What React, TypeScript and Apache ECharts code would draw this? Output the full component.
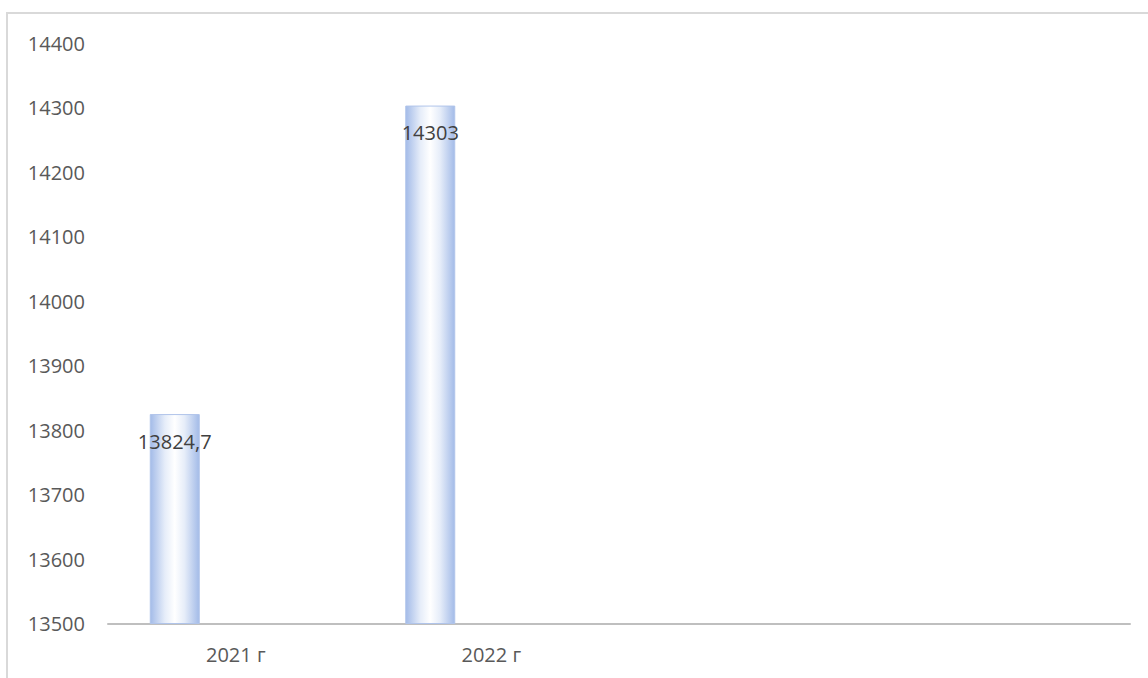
import React, { useEffect, useRef } from "react";
import * as echarts from "echarts";

const categories = ["2021 г", "2022 г", "", ""];
const values: (number | null)[] = [13824.7, 14303, null, null];
const emptyA: (number | null)[] = [null, null, null, null];
const emptyB: (number | null)[] = [null, null, null, null];
const yMin = 13500;
const yMax = 14400;
const yStep = 100;

const barColor = new echarts.graphic.LinearGradient(0, 0, 1, 0, [
  { offset: 0, color: "#a3bbe8" },
  { offset: 0.3, color: "#e6edf9" },
  { offset: 0.5, color: "#ffffff" },
  { offset: 0.7, color: "#e6edf9" },
  { offset: 1, color: "#a3bbe8" },
]);

export default function App() {
  const ref = useRef<HTMLDivElement>(null);
  useEffect(() => {
    if (!ref.current) return;
    const chart = echarts.init(ref.current, null, { renderer: "svg" });
    const font = "'Open Sans', sans-serif";
    chart.setOption({
      animation: false,
      backgroundColor: "#ffffff",
      graphic: [
        {
          type: "rect",
          shape: { x: 7, y: 13, width: 1200, height: 720 },
          style: { fill: "none", stroke: "#d9d9d9", lineWidth: 2 },
          silent: true,
        },
      ],
      grid: { left: 108, right: 18, top: 43, bottom: 54.5, containLabel: false },
      xAxis: {
        type: "category",
        data: categories,
        axisLine: { lineStyle: { color: "#bfbfbf", width: 2 } },
        axisTick: { show: false },
        axisLabel: { color: "#595959", fontSize: 20, fontFamily: font, margin: 21 },
      },
      yAxis: {
        type: "value",
        min: yMin,
        max: yMax,
        interval: yStep,
        axisLine: { show: false },
        axisTick: { show: false },
        splitLine: { show: false },
        axisLabel: {
          color: "#595959",
          fontSize: 20,
          fontFamily: font,
          margin: 23,
          formatter: (v: number) => String(v),
        },
      },
      series: [
        {
          type: "bar",
          data: values,
          barWidth: 50,
          barGap: "22%",
          itemStyle: { color: barColor, borderColor: "#b0c4ea", borderWidth: 1 },
          label: {
            show: true,
            position: "insideTop",
            distance: 17,
            color: "#404040",
            fontSize: 20,
            fontFamily: font,
            formatter: (p: any) => String(p.value).replace(".", ","),
          },
        },
        { type: "bar", data: emptyA, barWidth: 50 },
        { type: "bar", data: emptyB, barWidth: 50 },
      ],
    });
    return () => chart.dispose();
  }, []);
  return (
    <div
      ref={ref}
      style={{ position: "fixed", left: 0, top: 0, width: 1148, height: 678 }}
    />
  );
}
